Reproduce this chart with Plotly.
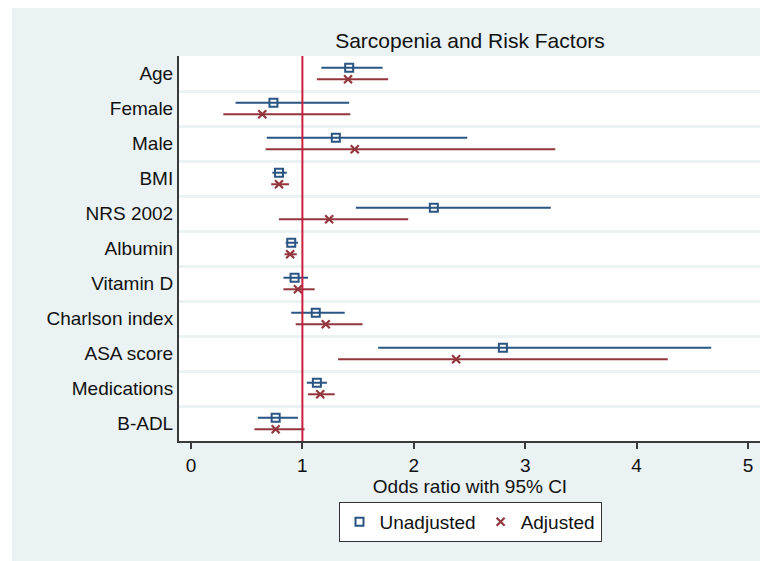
import plotly.graph_objects as go

categories = ["Age", "Female", "Male", "BMI", "NRS 2002", "Albumin", "Vitamin D",
              "Charlson index", "ASA score", "Medications", "B-ADL"]
or_unadj = [1.42, 0.74, 1.30, 0.79, 2.18, 0.90, 0.93, 1.12, 2.80, 1.13, 0.76]
lo_unadj = [1.17, 0.40, 0.68, 0.73, 1.48, 0.85, 0.83, 0.90, 1.68, 1.04, 0.60]
hi_unadj = [1.72, 1.42, 2.48, 0.86, 3.23, 0.96, 1.05, 1.38, 4.67, 1.22, 0.96]
or_adj = [1.41, 0.64, 1.47, 0.79, 1.24, 0.89, 0.96, 1.21, 2.38, 1.16, 0.76]
lo_adj = [1.13, 0.29, 0.67, 0.72, 0.79, 0.84, 0.83, 0.94, 1.32, 1.05, 0.57]
hi_adj = [1.77, 1.43, 3.27, 0.88, 1.95, 0.95, 1.11, 1.54, 4.28, 1.29, 1.02]
x_ticks = [0, 1, 2, 3, 4, 5]

BLUE = "#2A5582"
MAROON = "#93353D"
RED = "#C9203E"
BG = "#EAF2F3"
FONT = "Liberation Sans, Arial, sans-serif"

W, H = 760, 553
n = len(categories)
ypos = [n - i for i in range(n)]
off = 0.165

fig = go.Figure()
fig.add_trace(go.Scatter(
    x=or_unadj, y=[y + off for y in ypos], mode="markers", name="Unadjusted",
    marker=dict(symbol="square-open", size=8, color=BLUE, line=dict(width=2, color=BLUE)),
    error_x=dict(type="data", symmetric=False,
                 array=[h - o for h, o in zip(hi_unadj, or_unadj)],
                 arrayminus=[o - l for o, l in zip(or_unadj, lo_unadj)],
                 color=BLUE, thickness=2, width=0),
))
fig.add_trace(go.Scatter(
    x=or_adj, y=[y - off for y in ypos], mode="markers", name="Adjusted",
    marker=dict(symbol="x-thin", size=8, color=MAROON, line=dict(width=2.2, color=MAROON)),
    error_x=dict(type="data", symmetric=False,
                 array=[h - o for h, o in zip(hi_adj, or_adj)],
                 arrayminus=[o - l for o, l in zip(or_adj, lo_adj)],
                 color=MAROON, thickness=2, width=0),
))

fig.add_vline(x=1, line=dict(color=RED, width=2))

# thin white strip at the left of the Stata graph region
fig.add_shape(type="rect", xref="paper", yref="paper", x0=-0.35, x1=-0.2869, y0=-0.4, y1=1.2,
              fillcolor="white", line=dict(width=0), layer="below")

fig.update_layout(
    width=W, height=H,
    margin=dict(l=171, r=7, t=48, b=120),
    paper_bgcolor=BG, plot_bgcolor="white",
    font=dict(family=FONT, size=19, color="#111111"),
    title=dict(text="Sarcopenia and Risk Factors", x=0.5, xref="paper", xanchor="center",
               y=1 - 33 / H, yref="container", yanchor="middle",
               font=dict(size=21, color="#111111")),
    showlegend=True,
    legend=dict(orientation="h", x=0.5, xanchor="center", y=-0.21, yanchor="middle",
                bgcolor="white", bordercolor="#333333", borderwidth=1,
                font=dict(size=19), itemwidth=30),
    xaxis=dict(range=[-0.1077, 5.117], tickvals=x_ticks, ticktext=[str(t) for t in x_ticks],
               showgrid=False, zeroline=False, showline=True, linecolor="#3a3a3a", linewidth=2,
               ticks="outside", ticklen=6, tickwidth=2, tickcolor="#3a3a3a",
               ticklabelstandoff=0,
               title=dict(text="Odds ratio with 95% CI", standoff=0, font=dict(size=19))),
    yaxis=dict(range=[0.5, n + 0.5], tickvals=ypos, ticktext=categories,
               showgrid=False, zeroline=False, showline=True, linecolor="#3a3a3a", linewidth=2,
               ticks="", ticklabelstandoff=0,
               minor=dict(tickvals=[i + 0.5 for i in range(1, n)], showgrid=True,
                          gridcolor=BG, gridwidth=2.5, ticks="")),
)

fig.write_html("out.html")
